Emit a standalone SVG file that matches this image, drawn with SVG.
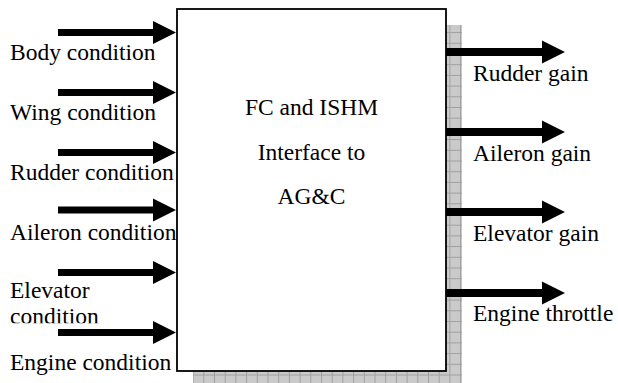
<svg xmlns="http://www.w3.org/2000/svg" width="618" height="383" viewBox="0 0 618 383">
<style>
text { font-family: "Liberation Serif", "Times New Roman", serif; font-size: 23.5px; fill: #000; }
.arrow { fill: #000; }
</style>
<defs>
<pattern id="grid" x="0" y="0" width="10.7" height="10.7" patternUnits="userSpaceOnUse">
<rect width="10.7" height="10.7" fill="#cacaca"/>
<path d="M0 0.5 H10.7 M0.5 0 V10.7" stroke="#a0a0a0" stroke-width="1" fill="none"/>
</pattern>
<clipPath id="clipCond"><rect x="0" y="300" width="180" height="23.3"/></clipPath>
</defs>
<g id="shadow">
<rect x="446" y="25" width="16" height="358" fill="url(#grid)"/>
<rect x="193" y="371" width="269" height="12" fill="url(#grid)"/>
</g>
<g id="main-box">
<rect x="177" y="9" width="269" height="362" fill="#fff" stroke="#000" stroke-width="1.8"/>
<text x="311.5" y="115" text-anchor="middle">FC and ISHM</text>
<text x="311.5" y="160" text-anchor="middle">Interface to</text>
<text x="311.5" y="204" text-anchor="middle">AG&amp;C</text>
</g>
<g id="input-labels">
<text x="10" y="60">Body condition</text>
<text x="10" y="120">Wing condition</text>
<text x="10" y="180">Rudder condition</text>
<text x="10" y="240">Aileron condition</text>
<text x="10" y="298">Elevator</text>
<text x="10" y="324" clip-path="url(#clipCond)">condition</text>
<text x="10" y="370">Engine condition</text>
</g>
<g id="output-labels">
<text x="473" y="81">Rudder gain</text>
<text x="473" y="161">Aileron gain</text>
<text x="473" y="241">Elevator gain</text>
<text x="473" y="321">Engine throttle</text>
</g>
<g id="connectors">
<path class="arrow" d="M58 29 H153 V21 L176 32.5 L153 44 V36 H58 Z"/>
<path class="arrow" d="M58 89 H153 V81 L176 92.5 L153 104 V96 H58 Z"/>
<path class="arrow" d="M58 149 H153 V141 L176 152.5 L153 164 V156 H58 Z"/>
<path class="arrow" d="M58 206.5 H153 V198.5 L176 210 L153 221.5 V213.5 H58 Z"/>
<path class="arrow" d="M58 269 H153 V261 L176 272.5 L153 284 V276 H58 Z"/>
<path class="arrow" d="M58 329 H153 V321 L176 332.5 L153 344 V336 H58 Z"/>
<path class="arrow" d="M446 48 H542 V40.5 L565 52 L542 63.5 V56 H446 Z"/>
<path class="arrow" d="M446 128 H542 V120.5 L565 132 L542 143.5 V136 H446 Z"/>
<path class="arrow" d="M446 208 H542 V200.5 L565 212 L542 223.5 V216 H446 Z"/>
<path class="arrow" d="M446 289 H542 V281.5 L565 293 L542 304.5 V297 H446 Z"/>
</g>
</svg>
